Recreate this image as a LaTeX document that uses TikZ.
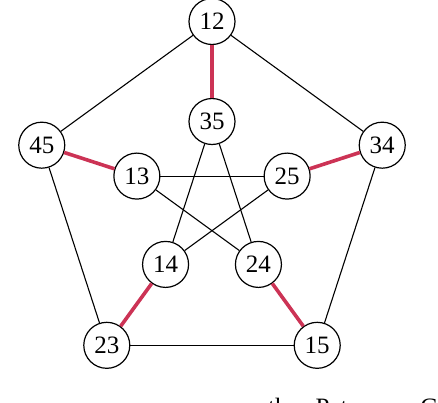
\documentclass[tikz,border=0pt]{standalone}
\usepackage{fontspec}
\setmainfont{Liberation Serif}
\definecolor{matchred}{RGB}{204,51,85}
\tikzset{
  vertex/.style={draw, circle, line width=1.2pt, minimum size=46pt, inner sep=0pt, font=\fontsize{25}{30}\selectfont},
  edge/.style={line width=1.1pt},
  matching/.style={line width=3.6pt, draw=matchred}
}
\begin{document}
\begin{tikzpicture}

\clip (-212pt,-201.5pt) rectangle (226pt,200.5pt);

% outer pentagon
\node (n12) [vertex] at (90:179pt) {12};
\node (n34) [vertex] at (18:179pt) {34};
\node (n15) [vertex] at (-54:179pt) {15};
\node (n23) [vertex] at (-126:179pt) {23};
\node (n45) [vertex] at (162:179pt) {45};

% inner star
\node (n35) [vertex] at (90:79pt) {35};
\node (n25) [vertex] at (18:79pt) {25};
\node (n24) [vertex] at (-54:79pt) {24};
\node (n14) [vertex] at (-126:79pt) {14};
\node (n13) [vertex] at (162:79pt) {13};

\draw[edge] (n12) -- (n34);
\draw[edge] (n34) -- (n15);
\draw[edge] (n15) -- (n23);
\draw[edge] (n23) -- (n45);
\draw[edge] (n45) -- (n12);

\draw[edge] (n35) -- (n14);
\draw[edge] (n35) -- (n24);
\draw[edge] (n13) -- (n25);
\draw[edge] (n13) -- (n24);
\draw[edge] (n25) -- (n14);

% perfect matching
\draw[matching] (n12) -- (n35);
\draw[matching] (n34) -- (n25);
\draw[matching] (n15) -- (n24);
\draw[matching] (n23) -- (n14);
\draw[matching] (n45) -- (n13);

% caption, cut by the lower edge
\node (caption) [anchor=base west, inner sep=0pt, font=\fontsize{25}{30}\selectfont] at (56pt,-214.5pt) {the\hspace{17pt}Petersen\hspace{20pt}Graph};

\end{tikzpicture}
\end{document}
